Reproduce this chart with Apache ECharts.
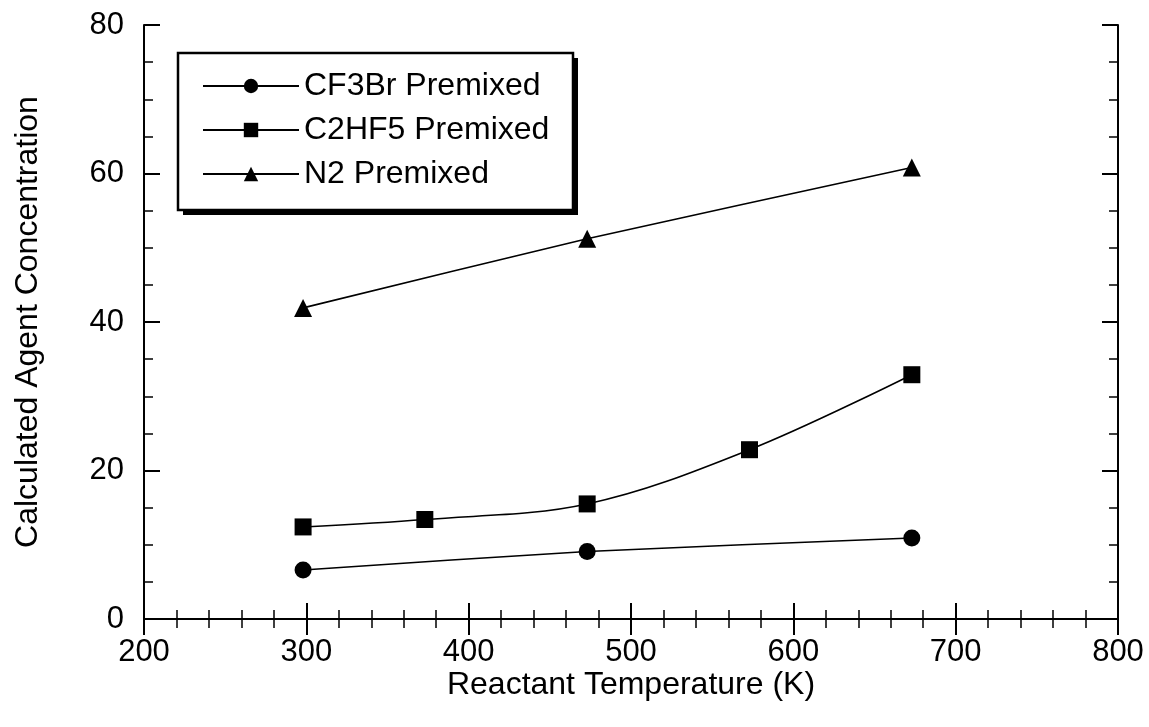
<!DOCTYPE html>
<html>
<head>
<meta charset="utf-8">
<script src="https://cdn.jsdelivr.net/npm/echarts@6/dist/echarts.min.js"></script>
<style>
  html, body { margin: 0; padding: 0; background: #fff; }
  #chart { width: 1149px; height: 727px; }
</style>
</head>
<body>
<div id="chart"></div>
<script>
  // values
  const cf3brTemp = [298, 473, 673]
  const cf3brConc = [6.6, 9.1, 10.9]
  const c2hf5Temp = [298, 373, 473, 573, 673]
  const c2hf5Conc = [12.4, 13.4, 15.5, 22.8, 32.9]
  const n2Temp = [298, 473, 673]
  const n2Conc = [41.9, 51.2, 60.8]

  const font = 'Liberation Sans, Arial, sans-serif'
  const pairs = (xs, ys) => xs.map((x, i) => [x, ys[i]])

  const chart = echarts.init(document.getElementById('chart'))

  const axisBase = {
    axisLine: {show: true, lineStyle: {color: '#000', width: 2}},
    axisTick: {show: true, inside: true, length: 16, lineStyle: {color: '#000', width: 2}},
    minorTick: {show: true, length: 9, lineStyle: {color: '#000', width: 1.5}},
    splitLine: {show: false}
  }

  chart.setOption({
    animation: false,
    grid: {left: 144, right: 31, top: 25, bottom: 108, outerBoundsMode: 'none'},
    // legend frame with its drop shadow
    graphic: [
      {type: 'rect', z: 1, shape: {x: 183, y: 58, width: 395, height: 157}, style: {fill: '#000'}},
      {type: 'rect', z: 2, shape: {x: 178, y: 53, width: 395, height: 157},
        style: {fill: '#fff', stroke: '#000', lineWidth: 2.5}}
    ],
    legend: {
      left: 202, top: 70, z: 5,
      orient: 'vertical',
      padding: 0,
      itemGap: 12,
      itemWidth: 96, itemHeight: 18,
      textStyle: {fontFamily: font, fontSize: 32, color: '#000'},
      data: ['CF3Br Premixed', 'C2HF5 Premixed', 'N2 Premixed']
    },
    xAxis: [
      Object.assign({}, axisBase, {
        type: 'value', min: 200, max: 800, interval: 100,
        minorTick: Object.assign({}, axisBase.minorTick, {splitNumber: 5}),
        name: 'Reactant Temperature (K)', nameLocation: 'middle', nameGap: 50,
        nameMoveOverlap: false,
        nameTextStyle: {fontFamily: font, fontSize: 32, color: '#000'},
        axisLabel: {fontFamily: font, fontSize: 31, color: '#000', margin: 18}
      }),
      Object.assign({}, axisBase, {
        type: 'value', min: 200, max: 800, interval: 100, position: 'top',
        minorTick: Object.assign({}, axisBase.minorTick, {splitNumber: 5}),
        axisLabel: {show: false}
      })
    ],
    yAxis: [
      Object.assign({}, axisBase, {
        type: 'value', min: 0, max: 80, interval: 20,
        minorTick: Object.assign({}, axisBase.minorTick, {splitNumber: 4}),
        name: 'Calculated Agent Concentration', nameLocation: 'middle', nameGap: 100,
        nameMoveOverlap: false,
        nameTextStyle: {fontFamily: font, fontSize: 32, color: '#000'},
        axisLabel: {fontFamily: font, fontSize: 31, color: '#000', margin: 20}
      }),
      Object.assign({}, axisBase, {
        type: 'value', min: 0, max: 80, interval: 20, position: 'right',
        minorTick: Object.assign({}, axisBase.minorTick, {splitNumber: 4}),
        axisLabel: {show: false}
      })
    ],
    series: [
      {
        name: 'CF3Br Premixed', type: 'line', smooth: 0.2,
        data: pairs(cf3brTemp, cf3brConc),
        symbol: 'circle', symbolSize: 17,
        itemStyle: {color: '#000'}, lineStyle: {color: '#000', width: 1.6}
      },
      {
        name: 'C2HF5 Premixed', type: 'line', smooth: 0.35,
        data: pairs(c2hf5Temp, c2hf5Conc),
        symbol: 'rect', symbolSize: 17,
        itemStyle: {color: '#000'}, lineStyle: {color: '#000', width: 1.6}
      },
      {
        name: 'N2 Premixed', type: 'line', smooth: 0.2,
        data: pairs(n2Temp, n2Conc),
        symbol: 'triangle', symbolSize: 18,
        itemStyle: {color: '#000'}, lineStyle: {color: '#000', width: 1.6}
      }
    ]
  })
</script>
</body>
</html>
